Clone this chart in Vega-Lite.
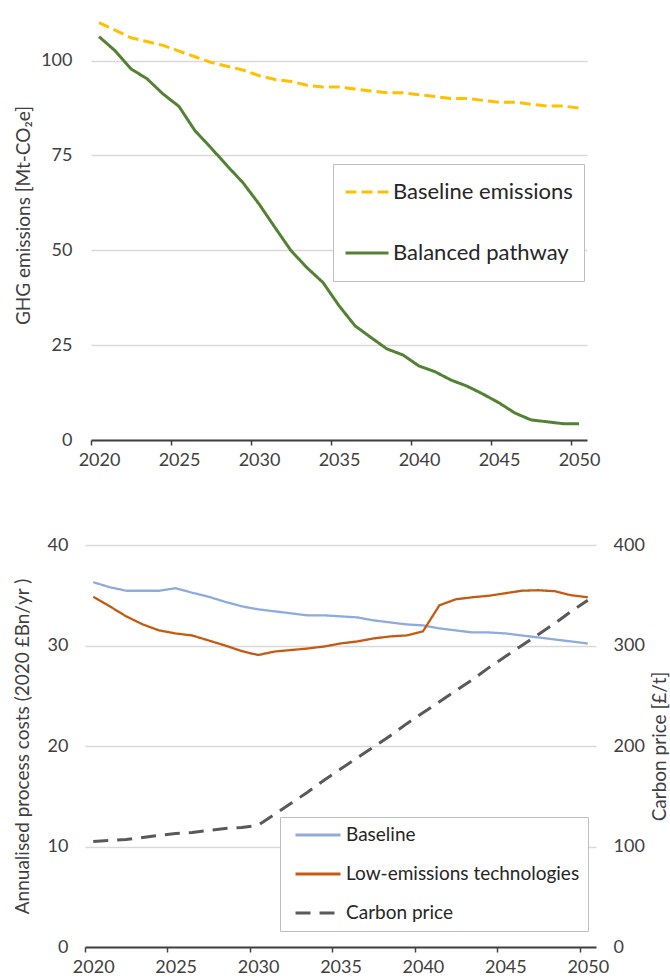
{
  "$schema": "https://vega.github.io/schema/vega-lite/v6.json",
  "padding": {"left": 13, "top": 15, "right": 0, "bottom": 0},
  "background": "white",
  "config": {
    "font": "Lato",
    "view": {"stroke": null},
    "axis": {
      "labelFont": "Lato",
      "labelFontSize": 18,
      "labelColor": "#404040",
      "titleFont": "Lato",
      "titleFontSize": 19,
      "titleFontWeight": "normal",
      "titleColor": "#404040",
      "gridColor": "#D9D9D9",
      "gridWidth": 1.5
    },
    "legend": {
      "labelFont": "Lato",
      "labelColor": "#262626",
      "labelLimit": 400,
      "strokeColor": "#BFBFBF",
      "fillColor": "white",
      "symbolType": "stroke",
      "orient": "none"
    }
  },
  "datasets": {
    "emissions": [
      {"year": 2020, "series": "Baseline emissions", "value": 110},
      {"year": 2021, "series": "Baseline emissions", "value": 108},
      {"year": 2022, "series": "Baseline emissions", "value": 106},
      {"year": 2023, "series": "Baseline emissions", "value": 105},
      {"year": 2024, "series": "Baseline emissions", "value": 104},
      {"year": 2025, "series": "Baseline emissions", "value": 102.5},
      {"year": 2026, "series": "Baseline emissions", "value": 101},
      {"year": 2027, "series": "Baseline emissions", "value": 99.5},
      {"year": 2028, "series": "Baseline emissions", "value": 98.5},
      {"year": 2029, "series": "Baseline emissions", "value": 97.5},
      {"year": 2030, "series": "Baseline emissions", "value": 96},
      {"year": 2031, "series": "Baseline emissions", "value": 95},
      {"year": 2032, "series": "Baseline emissions", "value": 94.5},
      {"year": 2033, "series": "Baseline emissions", "value": 93.5},
      {"year": 2034, "series": "Baseline emissions", "value": 93},
      {"year": 2035, "series": "Baseline emissions", "value": 93},
      {"year": 2036, "series": "Baseline emissions", "value": 92.5},
      {"year": 2037, "series": "Baseline emissions", "value": 92},
      {"year": 2038, "series": "Baseline emissions", "value": 91.5},
      {"year": 2039, "series": "Baseline emissions", "value": 91.5},
      {"year": 2040, "series": "Baseline emissions", "value": 91},
      {"year": 2041, "series": "Baseline emissions", "value": 90.5},
      {"year": 2042, "series": "Baseline emissions", "value": 90},
      {"year": 2043, "series": "Baseline emissions", "value": 90},
      {"year": 2044, "series": "Baseline emissions", "value": 89.5},
      {"year": 2045, "series": "Baseline emissions", "value": 89},
      {"year": 2046, "series": "Baseline emissions", "value": 89},
      {"year": 2047, "series": "Baseline emissions", "value": 88.5},
      {"year": 2048, "series": "Baseline emissions", "value": 88},
      {"year": 2049, "series": "Baseline emissions", "value": 88},
      {"year": 2050, "series": "Baseline emissions", "value": 87.5},
      {"year": 2020, "series": "Balanced pathway", "value": 106.3},
      {"year": 2021, "series": "Balanced pathway", "value": 102.6},
      {"year": 2022, "series": "Balanced pathway", "value": 97.8},
      {"year": 2023, "series": "Balanced pathway", "value": 95.2},
      {"year": 2024, "series": "Balanced pathway", "value": 91.2},
      {"year": 2025, "series": "Balanced pathway", "value": 87.9},
      {"year": 2026, "series": "Balanced pathway", "value": 81.5},
      {"year": 2027, "series": "Balanced pathway", "value": 77},
      {"year": 2028, "series": "Balanced pathway", "value": 72.3},
      {"year": 2029, "series": "Balanced pathway", "value": 67.8},
      {"year": 2030, "series": "Balanced pathway", "value": 62.2},
      {"year": 2031, "series": "Balanced pathway", "value": 56},
      {"year": 2032, "series": "Balanced pathway", "value": 49.9},
      {"year": 2033, "series": "Balanced pathway", "value": 45.4},
      {"year": 2034, "series": "Balanced pathway", "value": 41.5},
      {"year": 2035, "series": "Balanced pathway", "value": 35.4},
      {"year": 2036, "series": "Balanced pathway", "value": 30.1},
      {"year": 2037, "series": "Balanced pathway", "value": 27},
      {"year": 2038, "series": "Balanced pathway", "value": 24},
      {"year": 2039, "series": "Balanced pathway", "value": 22.4},
      {"year": 2040, "series": "Balanced pathway", "value": 19.5},
      {"year": 2041, "series": "Balanced pathway", "value": 18},
      {"year": 2042, "series": "Balanced pathway", "value": 15.8},
      {"year": 2043, "series": "Balanced pathway", "value": 14.2},
      {"year": 2044, "series": "Balanced pathway", "value": 12.1},
      {"year": 2045, "series": "Balanced pathway", "value": 9.8},
      {"year": 2046, "series": "Balanced pathway", "value": 7.1},
      {"year": 2047, "series": "Balanced pathway", "value": 5.3},
      {"year": 2048, "series": "Balanced pathway", "value": 4.8},
      {"year": 2049, "series": "Balanced pathway", "value": 4.3},
      {"year": 2050, "series": "Balanced pathway", "value": 4.3}
    ],
    "costs": [
      {"year": 2020, "series": "Baseline", "value": 36.3},
      {"year": 2021, "series": "Baseline", "value": 35.8},
      {"year": 2022, "series": "Baseline", "value": 35.45},
      {"year": 2023, "series": "Baseline", "value": 35.45},
      {"year": 2024, "series": "Baseline", "value": 35.45},
      {"year": 2025, "series": "Baseline", "value": 35.7},
      {"year": 2026, "series": "Baseline", "value": 35.25},
      {"year": 2027, "series": "Baseline", "value": 34.85},
      {"year": 2028, "series": "Baseline", "value": 34.35},
      {"year": 2029, "series": "Baseline", "value": 33.9},
      {"year": 2030, "series": "Baseline", "value": 33.6},
      {"year": 2031, "series": "Baseline", "value": 33.4},
      {"year": 2032, "series": "Baseline", "value": 33.2},
      {"year": 2033, "series": "Baseline", "value": 33.0},
      {"year": 2034, "series": "Baseline", "value": 33.0},
      {"year": 2035, "series": "Baseline", "value": 32.9},
      {"year": 2036, "series": "Baseline", "value": 32.8},
      {"year": 2037, "series": "Baseline", "value": 32.5},
      {"year": 2038, "series": "Baseline", "value": 32.3},
      {"year": 2039, "series": "Baseline", "value": 32.1},
      {"year": 2040, "series": "Baseline", "value": 32.0},
      {"year": 2041, "series": "Baseline", "value": 31.7},
      {"year": 2042, "series": "Baseline", "value": 31.5},
      {"year": 2043, "series": "Baseline", "value": 31.3},
      {"year": 2044, "series": "Baseline", "value": 31.3},
      {"year": 2045, "series": "Baseline", "value": 31.2},
      {"year": 2046, "series": "Baseline", "value": 31.0},
      {"year": 2047, "series": "Baseline", "value": 30.8},
      {"year": 2048, "series": "Baseline", "value": 30.6},
      {"year": 2049, "series": "Baseline", "value": 30.4},
      {"year": 2050, "series": "Baseline", "value": 30.2},
      {"year": 2020, "series": "Low-emissions technologies", "value": 34.85},
      {"year": 2021, "series": "Low-emissions technologies", "value": 33.9},
      {"year": 2022, "series": "Low-emissions technologies", "value": 32.9},
      {"year": 2023, "series": "Low-emissions technologies", "value": 32.1},
      {"year": 2024, "series": "Low-emissions technologies", "value": 31.5},
      {"year": 2025, "series": "Low-emissions technologies", "value": 31.2},
      {"year": 2026, "series": "Low-emissions technologies", "value": 31.0},
      {"year": 2027, "series": "Low-emissions technologies", "value": 30.5},
      {"year": 2028, "series": "Low-emissions technologies", "value": 30.0},
      {"year": 2029, "series": "Low-emissions technologies", "value": 29.45},
      {"year": 2030, "series": "Low-emissions technologies", "value": 29.05},
      {"year": 2031, "series": "Low-emissions technologies", "value": 29.4},
      {"year": 2032, "series": "Low-emissions technologies", "value": 29.55},
      {"year": 2033, "series": "Low-emissions technologies", "value": 29.7},
      {"year": 2034, "series": "Low-emissions technologies", "value": 29.9},
      {"year": 2035, "series": "Low-emissions technologies", "value": 30.2},
      {"year": 2036, "series": "Low-emissions technologies", "value": 30.4},
      {"year": 2037, "series": "Low-emissions technologies", "value": 30.7},
      {"year": 2038, "series": "Low-emissions technologies", "value": 30.9},
      {"year": 2039, "series": "Low-emissions technologies", "value": 31.0},
      {"year": 2040, "series": "Low-emissions technologies", "value": 31.4},
      {"year": 2041, "series": "Low-emissions technologies", "value": 34.0},
      {"year": 2042, "series": "Low-emissions technologies", "value": 34.6},
      {"year": 2043, "series": "Low-emissions technologies", "value": 34.8},
      {"year": 2044, "series": "Low-emissions technologies", "value": 34.95},
      {"year": 2045, "series": "Low-emissions technologies", "value": 35.2},
      {"year": 2046, "series": "Low-emissions technologies", "value": 35.45},
      {"year": 2047, "series": "Low-emissions technologies", "value": 35.5},
      {"year": 2048, "series": "Low-emissions technologies", "value": 35.4},
      {"year": 2049, "series": "Low-emissions technologies", "value": 35.0},
      {"year": 2050, "series": "Low-emissions technologies", "value": 34.8}
    ],
    "carbon": [
      {"year": 2020, "series": "Carbon price", "price": 105},
      {"year": 2021, "series": "Carbon price", "price": 106},
      {"year": 2022, "series": "Carbon price", "price": 107},
      {"year": 2023, "series": "Carbon price", "price": 109},
      {"year": 2024, "series": "Carbon price", "price": 111},
      {"year": 2025, "series": "Carbon price", "price": 113},
      {"year": 2026, "series": "Carbon price", "price": 114},
      {"year": 2027, "series": "Carbon price", "price": 116},
      {"year": 2028, "series": "Carbon price", "price": 118},
      {"year": 2029, "series": "Carbon price", "price": 119},
      {"year": 2030, "series": "Carbon price", "price": 121},
      {"year": 2031, "series": "Carbon price", "price": 132},
      {"year": 2032, "series": "Carbon price", "price": 143},
      {"year": 2033, "series": "Carbon price", "price": 154},
      {"year": 2034, "series": "Carbon price", "price": 166},
      {"year": 2035, "series": "Carbon price", "price": 177},
      {"year": 2036, "series": "Carbon price", "price": 188},
      {"year": 2037, "series": "Carbon price", "price": 199},
      {"year": 2038, "series": "Carbon price", "price": 210},
      {"year": 2039, "series": "Carbon price", "price": 222},
      {"year": 2040, "series": "Carbon price", "price": 233},
      {"year": 2041, "series": "Carbon price", "price": 244},
      {"year": 2042, "series": "Carbon price", "price": 255},
      {"year": 2043, "series": "Carbon price", "price": 266},
      {"year": 2044, "series": "Carbon price", "price": 278},
      {"year": 2045, "series": "Carbon price", "price": 289},
      {"year": 2046, "series": "Carbon price", "price": 300},
      {"year": 2047, "series": "Carbon price", "price": 311},
      {"year": 2048, "series": "Carbon price", "price": 322},
      {"year": 2049, "series": "Carbon price", "price": 334},
      {"year": 2050, "series": "Carbon price", "price": 345}
    ]
  },
  "align": "none",
  "bounds": "full",
  "spacing": 67,
  "resolve": {
    "scale": {"color": "independent", "strokeDash": "independent"},
    "legend": {"color": "independent", "strokeDash": "independent"}
  },
  "vconcat": [
    {
      "width": 502,
      "height": 425,
      "data": {"name": "emissions"},
      "mark": {"type": "line", "strokeWidth": 3},
      "encoding": {
        "x": {
          "field": "year",
          "type": "quantitative",
          "scale": {"domain": [2019.5, 2050.5], "range": [6, 502], "nice": false, "zero": false},
          "axis": {
            "title": null,
            "grid": false,
            "values": [2020, 2025, 2030, 2035, 2040, 2045, 2050],
            "format": "d",
            "labelFlush": false,
            "tickOffset": -8,
            "labelOffset": 8,
            "domainColor": "#404040",
            "domainWidth": 1.8,
            "tickColor": "#404040",
            "tickWidth": 1.5,
            "tickSize": 5,
            "labelPadding": 6
          }
        },
        "y": {
          "field": "value",
          "type": "quantitative",
          "scale": {"domain": [0, 112], "nice": false},
          "axis": {
            "title": "GHG emissions  [Mt-CO₂e]",
            "titleY": 200,
            "values": [0, 25, 50, 75, 100],
            "domain": false,
            "ticks": false,
            "labelPadding": 13,
            "titlePadding": 7
          }
        },
        "color": {
          "field": "series",
          "type": "nominal",
          "scale": {"domain": ["Baseline emissions", "Balanced pathway"], "range": ["#FFC000", "#548235"]},
          "legend": {
            "title": null,
            "legendX": 248,
            "legendY": 149,
            "padding": 11,
            "clipHeight": 34,
            "rowPadding": 27,
            "labelFontSize": 22,
            "labelOffset": 3,
            "symbolSize": 1849,
            "symbolStrokeWidth": 3
          }
        },
        "strokeDash": {
          "field": "series",
          "type": "nominal",
          "scale": {"domain": ["Baseline emissions", "Balanced pathway"], "range": [[11, 5], [1, 0]]},
          "legend": {
            "title": null,
            "legendX": 248,
            "legendY": 149,
            "padding": 11,
            "clipHeight": 34,
            "rowPadding": 27,
            "labelFontSize": 22,
            "labelOffset": 3,
            "symbolSize": 1849,
            "symbolStrokeWidth": 3
          }
        }
      }
    },
    {
      "width": 511,
      "height": 402,
      "layer": [
        {
          "data": {"name": "costs"},
          "mark": {"type": "line", "strokeWidth": 2.3},
          "encoding": {
            "x": {
              "field": "year",
              "type": "quantitative",
              "scale": {"domain": [2019.5, 2050.5], "nice": false, "zero": false},
              "axis": {
                "title": null,
                "grid": false,
                "values": [2020, 2025, 2030, 2035, 2040, 2045, 2050],
                "format": "d",
                "labelFlush": false,
                "tickOffset": -8.2,
                "labelOffset": 8.2,
                "domainColor": "#404040",
                "domainWidth": 1.8,
                "tickColor": "#404040",
                "tickWidth": 1.5,
                "tickSize": 5,
                "labelPadding": 6
              }
            },
            "y": {
              "field": "value",
              "type": "quantitative",
              "scale": {"domain": [0, 40], "nice": false},
              "axis": {
                "title": "Annualised process costs (2020 £Bn/yr )",
                "orient": "left",
                "values": [0, 10, 20, 30, 40],
                "domain": false,
                "ticks": false,
                "labelPadding": 17,
                "titlePadding": 15
              }
            },
            "color": {
              "field": "series",
              "type": "nominal",
              "scale": {"domain": ["Baseline", "Low-emissions technologies", "Carbon price"], "range": ["#8FAADC", "#C55A11", "#595959"]},
              "legend": {
                "title": null,
                "legendX": 195,
                "legendY": 272,
                "padding": 8,
                "clipHeight": 20,
                "rowPadding": 19,
                "labelFontSize": 19,
                "labelOffset": 4,
                "symbolOffset": 6,
                "symbolSize": 2025,
                "symbolStrokeWidth": 3
              }
            },
            "strokeDash": {
              "field": "series",
              "type": "nominal",
              "scale": {"domain": ["Baseline", "Low-emissions technologies", "Carbon price"], "range": [[1, 0], [1, 0], [15, 9]]},
              "legend": {
                "title": null,
                "legendX": 195,
                "legendY": 272,
                "padding": 8,
                "clipHeight": 20,
                "rowPadding": 19,
                "labelFontSize": 19,
                "labelOffset": 4,
                "symbolOffset": 6,
                "symbolSize": 2025,
                "symbolStrokeWidth": 3
              }
            }
          }
        },
        {
          "data": {"name": "carbon"},
          "mark": {"type": "line", "strokeWidth": 3},
          "encoding": {
            "x": {"field": "year", "type": "quantitative"},
            "y": {
              "field": "price",
              "type": "quantitative",
              "scale": {"domain": [0, 400], "nice": false},
              "axis": {
                "title": "Carbon price [£/t]",
                "orient": "right",
                "values": [0, 100, 200, 300, 400],
                "grid": false,
                "domain": false,
                "ticks": false,
                "labelPadding": 17,
                "titlePadding": 25,
                "titleAngle": 270
              }
            },
            "color": {"field": "series", "type": "nominal"},
            "strokeDash": {"field": "series", "type": "nominal"}
          }
        }
      ],
      "resolve": {"scale": {"y": "independent"}}
    }
  ]
}
